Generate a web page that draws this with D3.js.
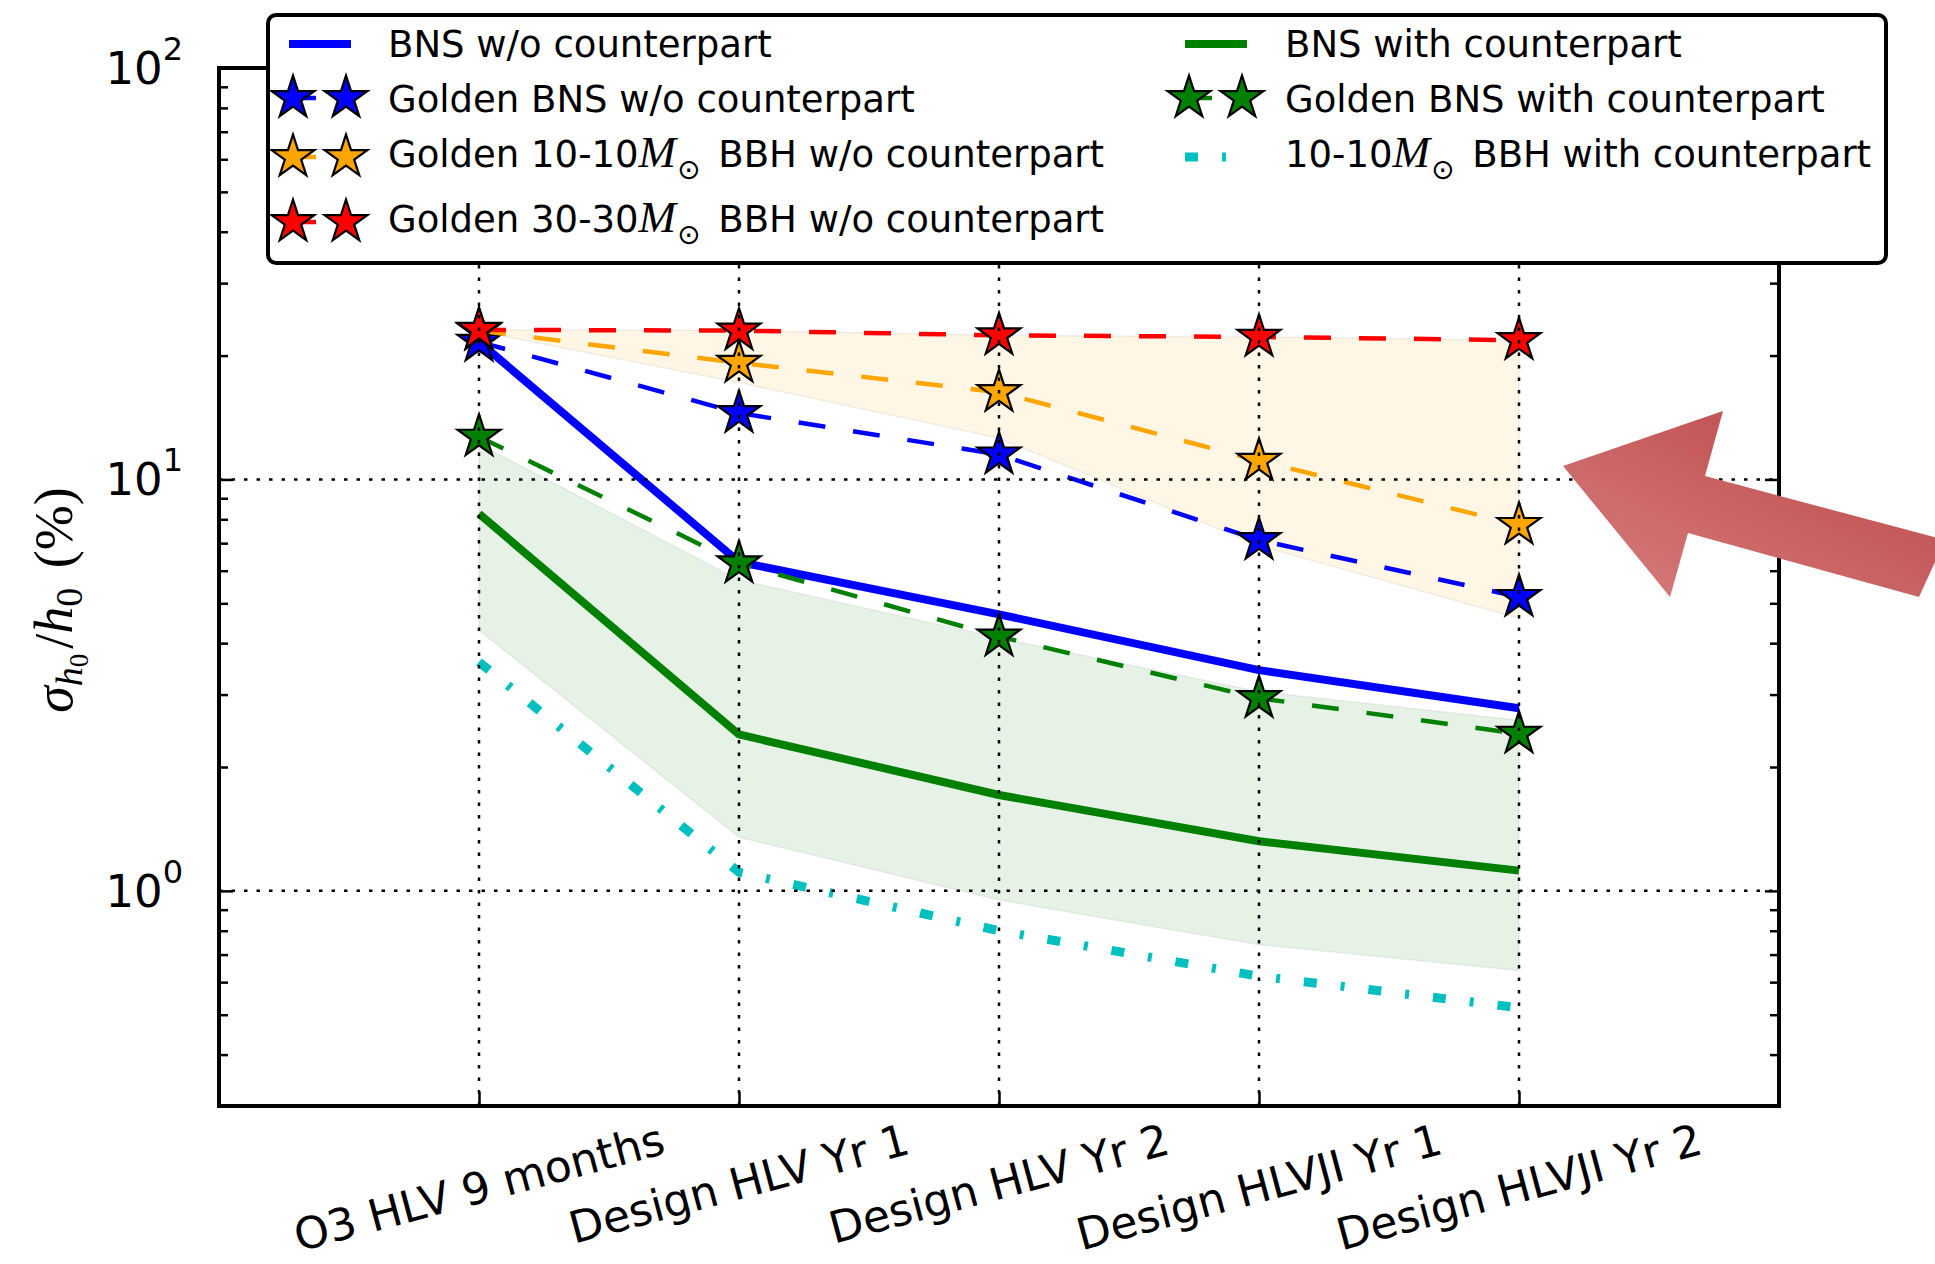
<!DOCTYPE html>
<html>
<head>
<meta charset="utf-8">
<script src="https://cdn.jsdelivr.net/npm/d3@7/dist/d3.min.js"></script>
<style>
body { margin: 0; background: #fff }
svg { display: block }
</style>
</head>
<body>
<div id="graph"></div>
<script>
// observing runs along the x axis
var categories = ['O3 HLV 9 months', 'Design HLV Yr 1', 'Design HLV Yr 2', 'Design HLVJI Yr 1', 'Design HLVJI Yr 2']

// sigma_h0 / h0 in percent
var bnsNoCp = [21.6, 6.3, 4.7, 3.44, 2.78]
var bnsCp = [8.25, 2.4, 1.71, 1.32, 1.12]
var goldenBnsNoCp = [21.6, 14.5, 11.5, 7.12, 5.18]
var goldenBnsCp = [12.7, 6.25, 4.15, 2.94, 2.41]
var golden1010NoCp = [23.0, 19.2, 16.3, 11.1, 7.75]
var golden3030NoCp = [23.1, 23.0, 22.4, 22.2, 21.8]
var bbh1010Cp = [3.6, 1.11, 0.8, 0.62, 0.52]

// shaded bands
var bnsBandLow = [4.3, 1.35, 0.95, 0.74, 0.64]
var bnsBandHigh = [12.2, 5.7, 4.12, 3.05, 2.6]
var bbhBandLow = [22.9, 17.2, 12.6, 6.9, 4.6]
var bbhBandHigh = golden3030NoCp

var yMajor = [1, 10, 100]
var yMinor = [0.4, 0.5, 0.6, 0.7, 0.8, 0.9, 2, 3, 4, 5, 6, 7, 8, 9, 20, 30, 40, 50, 60, 70, 80, 90]
var yTickLabels = ['0', '1', '2']

var width = 1935, height = 1264
var svg = d3.select('#graph').append('svg')
	.attr('width', width)
	.attr('height', height)

var xScale = d3.scaleLinear().domain([-1, 5]).range([219, 1779])
var yScale = d3.scaleLog().domain([0.3, 100]).range([1106, 68])

var dashed = '27,28'
var dashdot = '13,24,4,24'
var starSym = d3.symbol().type(d3.symbolStar).size(570)

var series = [
	{ name: 'BNS w/o counterpart', values: bnsNoCp, color: '#0000ff', width: 8, dash: null, star: false },
	{ name: 'Golden BNS w/o counterpart', values: goldenBnsNoCp, color: '#0000ff', width: 4.5, dash: dashed, star: true },
	{ name: 'Golden 10-10', values: golden1010NoCp, color: '#ffa500', width: 4.5, dash: dashed, star: true },
	{ name: 'Golden 30-30', values: golden3030NoCp, color: '#ff0000', width: 4.5, dash: dashed, star: true },
	{ name: 'BNS with counterpart', values: bnsCp, color: '#008000', width: 8, dash: null, star: false },
	{ name: 'Golden BNS with counterpart', values: goldenBnsCp, color: '#008000', width: 4.5, dash: dashed, star: true },
	{ name: '10-10 with', values: bbh1010Cp, color: '#00bfbf', width: 9, dash: dashdot, star: false }
]

buildGraph()

function buildGraph() {
	var defs = svg.append('defs')
	var grad = defs.append('linearGradient').attr('id', 'arrowGrad')
		.attr('x1', 1).attr('y1', 0).attr('x2', 0).attr('y2', 1)
	grad.append('stop').attr('offset', '0%').attr('stop-color', '#b94444')
	grad.append('stop').attr('offset', '100%').attr('stop-color', '#d87e7e')

	// bands
	var area = d3.area()
		.x(function(d, i) { return xScale(i) })
		.y0(function(d) { return yScale(d[0]) })
		.y1(function(d) { return yScale(d[1]) })

	svg.append('path')
		.attr('d', area(d3.zip(bbhBandLow, bbhBandHigh)))
		.attr('fill', 'rgba(255,165,0,0.1)')
		.attr('stroke', 'rgba(0,0,0,0.06)')
		.attr('stroke-width', 1.5)

	svg.append('path')
		.attr('d', area(d3.zip(bnsBandLow, bnsBandHigh)))
		.attr('fill', 'rgba(0,128,0,0.1)')
		.attr('stroke', 'rgba(0,0,0,0.06)')
		.attr('stroke-width', 1.5)

	var line = d3.line()
		.x(function(d, i) { return xScale(i) })
		.y(function(d) { return yScale(d) })

	series.forEach(function(s) {
		svg.append('path')
			.attr('d', line(s.values))
			.attr('fill', 'none')
			.attr('stroke', s.color)
			.attr('stroke-width', s.width)
			.attr('stroke-dasharray', s.dash)
			.attr('stroke-linecap', 'butt')
			.attr('stroke-linejoin', 'round')
		if (s.star) {
			svg.append('g').selectAll('path')
				.data(s.values)
				.enter().append('path')
				.attr('d', starSym)
				.attr('transform', function(d, i) { return 'translate(' + xScale(i) + ',' + yScale(d) + ')' })
				.attr('fill', s.color)
				.attr('stroke', '#000')
				.attr('stroke-width', 2.2)
				.attr('stroke-linejoin', 'miter')
		}
	})

	// grid, drawn on top like the original
	var grid = svg.append('g')
		.attr('stroke', '#000')
		.attr('stroke-width', 2.5)
		.attr('stroke-dasharray', '3.5,9')
	grid.selectAll('.gx').data(d3.range(categories.length))
		.enter().append('line')
		.attr('x1', function(d) { return xScale(d) })
		.attr('x2', function(d) { return xScale(d) })
		.attr('y1', yScale.range()[0])
		.attr('y2', yScale.range()[1])
	grid.selectAll('.gy').data(yMajor.slice(0, 2))
		.enter().append('line')
		.attr('x1', xScale.range()[0])
		.attr('x2', xScale.range()[1])
		.attr('y1', function(d) { return yScale(d) })
		.attr('y2', function(d) { return yScale(d) })

	// ticks on all four sides, pointing in
	var x0 = xScale.range()[0], x1 = xScale.range()[1]
	var yb = yScale.range()[0], yt = yScale.range()[1]
	var noLabel = function() { return '' }

	svg.append('g').attr('transform', 'translate(' + x0 + ',0)')
		.call(d3.axisLeft(yScale).tickValues(yMajor).tickSize(-14).tickFormat(noLabel))
	svg.append('g').attr('transform', 'translate(' + x0 + ',0)')
		.call(d3.axisLeft(yScale).tickValues(yMinor).tickSize(-9).tickFormat(noLabel))
	svg.append('g').attr('transform', 'translate(' + x1 + ',0)')
		.call(d3.axisRight(yScale).tickValues(yMajor).tickSize(-14).tickFormat(noLabel))
	svg.append('g').attr('transform', 'translate(' + x1 + ',0)')
		.call(d3.axisRight(yScale).tickValues(yMinor).tickSize(-9).tickFormat(noLabel))
	svg.append('g').attr('transform', 'translate(0,' + yb + ')')
		.call(d3.axisBottom(xScale).tickValues(d3.range(categories.length)).tickSize(-14).tickFormat(noLabel))
	svg.append('g').attr('transform', 'translate(0,' + yt + ')')
		.call(d3.axisTop(xScale).tickValues(d3.range(categories.length)).tickSize(-14).tickFormat(noLabel))
	svg.selectAll('.domain').remove()
	svg.selectAll('.tick line').attr('stroke', '#000').attr('stroke-width', 2.5)

	svg.append('rect')
		.attr('x', x0).attr('y', yt)
		.attr('width', x1 - x0).attr('height', yb - yt)
		.attr('fill', 'none')
		.attr('stroke', '#000')
		.attr('stroke-width', 4)

	// y tick labels 10^n
	var yl = svg.append('g')
		.attr('font-family', 'DejaVu Sans, sans-serif')
		.attr('fill', '#000')
	yMajor.forEach(function(v, i) {
		var t = yl.append('text')
			.attr('x', 183)
			.attr('y', yScale(v) + 16)
			.attr('text-anchor', 'end')
			.attr('font-size', 45)
		t.append('tspan').text('10')
		t.append('tspan').attr('font-size', 32).attr('dy', -24).text(yTickLabels[i])
	})

	// y axis label
	var ylab = svg.append('text')
		.attr('transform', 'translate(72,600) rotate(-90)')
		.attr('text-anchor', 'middle')
		.attr('font-family', 'Liberation Serif, DejaVu Serif, serif')
		.attr('font-size', 54)
		.attr('fill', '#000')
	ylab.append('tspan').attr('font-style', 'italic').text('σ')
	ylab.append('tspan').attr('font-style', 'italic').attr('font-size', 38).attr('dy', 10).text('h')
	ylab.append('tspan').attr('font-size', 27).attr('dy', 6).text('0')
	ylab.append('tspan').attr('dy', -16).attr('dx', 5).text('/')
	ylab.append('tspan').attr('font-style', 'italic').text('h')
	ylab.append('tspan').attr('font-size', 38).attr('dy', 10).text('0')
	ylab.append('tspan').attr('dy', -10).attr('dx', 6).text(' (%)')

	// x tick labels, rotated about their centre, top aligned below the axis
	var ang = 15, fs = 44
	svg.append('g').selectAll('text')
		.data(categories)
		.enter().append('text')
		.attr('font-family', 'DejaVu Sans, sans-serif')
		.attr('font-size', fs)
		.attr('text-anchor', 'middle')
		.attr('dominant-baseline', 'central')
		.attr('fill', '#000')
		.text(function(d) { return d })
		.each(function(d, i) {
			var len = this.getComputedTextLength()
			var a = ang * Math.PI / 180
			var ext = len * Math.sin(a) + fs * 0.95 * Math.cos(a)
			var cx = xScale(i), cy = 1118 + ext / 2
			d3.select(this).attr('x', cx).attr('y', cy)
				.attr('transform', 'rotate(' + (-ang) + ',' + cx + ',' + cy + ')')
		})

	buildLegend()

	// annotation arrow
	svg.append('path')
		.attr('d', 'M1563,466 L1723,411 L1705,476 L1945,540 L1919,597 L1688,533 L1670,597 Z')
		.attr('fill', 'url(#arrowGrad)')
}

function buildLegend() {
	var lg = svg.append('g')
	lg.append('rect')
		.attr('x', 268).attr('y', 15)
		.attr('width', 1618).attr('height', 248)
		.attr('rx', 8)
		.attr('fill', '#fff')
		.attr('stroke', '#000')
		.attr('stroke-width', 4)

	var entries = [
		{ s: series[0], hx: 289, tx: 388, hy: 44, ty: 57, label: ['BNS w/o counterpart'] },
		{ s: series[1], hx: 289, tx: 388, hy: 98, ty: 112, label: ['Golden BNS w/o counterpart'] },
		{ s: series[2], hx: 289, tx: 388, hy: 157, ty: 167, label: ['Golden 10-10', 'M', ' BBH w/o counterpart'] },
		{ s: series[3], hx: 289, tx: 388, hy: 222, ty: 232, label: ['Golden 30-30', 'M', ' BBH w/o counterpart'] },
		{ s: series[4], hx: 1185, tx: 1285, hy: 44, ty: 57, label: ['BNS with counterpart'] },
		{ s: series[5], hx: 1185, tx: 1285, hy: 98, ty: 112, label: ['Golden BNS with counterpart'] },
		{ s: series[6], hx: 1185, tx: 1285, hy: 157, ty: 167, label: ['10-10', 'M', ' BBH with counterpart'] }
	]

	entries.forEach(function(e) {
		var s = e.s
		lg.append('line')
			.attr('x1', e.hx).attr('x2', e.hx + 62)
			.attr('y1', e.hy).attr('y2', e.hy)
			.attr('stroke', s.color)
			.attr('stroke-width', s.width)
			.attr('stroke-dasharray', s.dash)
		if (s.star) {
			lg.selectAll(null).data([e.hx + 4, e.hx + 57])
				.enter().append('path')
				.attr('d', starSym)
				.attr('transform', function(d) { return 'translate(' + d + ',' + e.hy + ')' })
				.attr('fill', s.color)
				.attr('stroke', '#000')
				.attr('stroke-width', 2.2)
		}
		var t = lg.append('text')
			.attr('x', e.tx).attr('y', e.ty)
			.attr('font-family', 'DejaVu Sans, sans-serif')
			.attr('font-size', 37)
			.attr('fill', '#000')
		t.append('tspan').text(e.label[0])
		if (e.label.length > 1) {
			t.append('tspan')
				.attr('font-family', 'Liberation Serif, DejaVu Serif, serif')
				.attr('font-style', 'italic')
				.attr('font-size', 45)
				.text(e.label[1])
			t.append('tspan')
				.attr('font-family', 'DejaVu Sans, sans-serif')
				.attr('font-size', 28)
				.attr('dy', 12)
				.attr('dx', 1)
				.text('\u2299')
			t.append('tspan').attr('dy', -12).attr('dx', 6).text(e.label[2])
		}
	})
}
</script>
</body>
</html>
